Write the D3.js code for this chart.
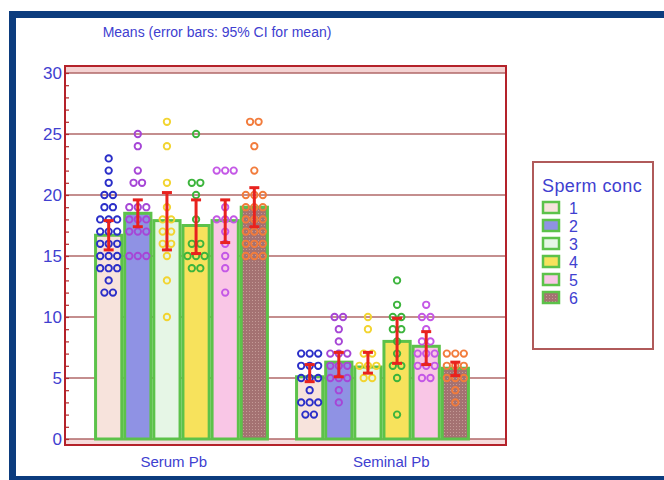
<!DOCTYPE html>
<html>
<head>
<meta charset="utf-8">
<script src="https://cdn.jsdelivr.net/npm/d3@7"></script>
<style>
  body { margin: 0; background: #fff; }
  svg text { font-family: "Liberation Sans", Arial, sans-serif; }
</style>
</head>
<body>
<div id="chart"></div>
<script>
// categories and values
var groups = ["Serum Pb", "Seminal Pb"];
var concLevels = ["1", "2", "3", "4", "5", "6"];
var yTicks = [0, 5, 10, 15, 20, 25, 30];

// means and 95% CI per sperm conc level
var serumMean = [16.7, 18.5, 17.9, 17.5, 17.9, 19.0];
var serumLow  = [15.5, 17.4, 15.5, 15.2, 16.1, 17.4];
var serumHigh = [17.9, 19.6, 20.2, 19.6, 19.6, 20.6];
var seminalMean = [5.1, 6.3, 5.9, 8.0, 7.6, 5.8];
var seminalLow  = [4.7, 5.1, 5.4, 6.2, 6.1, 5.2];
var seminalHigh = [6.1, 7.1, 7.1, 9.9, 8.8, 6.3];

// single observations
var serumPts = [
  [12,12,13,14,14,14,15,15,15,16,16,16,17,17,17,18,18,18,19,19,20,20,21,22,23],
  [15,15,15,17,17,17,18,18,18,19,19,19,21,21,22,24,25],
  [10,13,15,16,16,17,17,18,18,19,21,24,26],
  [14,14,15,15,15,16,16,18,20,21,21,25],
  [12,14,15,16,17,18,18,18,19,22,22,22],
  [15,15,15,16,16,16,17,17,17,18,18,18,19,19,19,20,20,20,22,24,26,26]
];
var seminalPts = [
  [2,2,3,3,3,4,5,5,5,6,6,6,7,7,7],
  [3,4,5,5,5,6,6,6,7,7,7,8,9,10,10],
  [5,5,6,6,6,7,7,9,10],
  [2,5,6,6,7,8,9,9,10,10,11,13],
  [5,5,6,6,6,7,7,7,8,8,9,10,10,11],
  [3,4,5,5,5,6,6,6,7,7,7]
];

var barColors = ["#f7e3dc", "#8f92e4", "#e6f6e6", "#f7e25c", "#f9c6e6", "url(#dots6)"];
var dotColors = ["#2a2ec8", "#a646d6", "#f2d430", "#3cb43c", "#c458e6", "#f27c3c"];

var blue = "#4040d0";
var width = 664, height = 480;

var svg = d3.select("#chart").append("svg")
    .attr("width", width)
    .attr("height", height);

// dotted brown fill of level 6
var pat = svg.append("defs").append("pattern")
    .attr("id", "dots6")
    .attr("width", 3).attr("height", 3)
    .attr("patternUnits", "userSpaceOnUse");
pat.append("rect").attr("width", 3).attr("height", 3).attr("fill", "#a47272");
pat.append("rect").attr("width", 1).attr("height", 1).attr("fill", "#c49a96");

// outer navy frame
svg.append("rect")
    .attr("x", 12.5).attr("y", 14.5)
    .attr("width", 700).attr("height", 465)
    .attr("fill", "none")
    .attr("stroke", "#0c3c7e")
    .attr("stroke-width", 7);

// title
svg.append("text")
    .attr("x", 217).attr("y", 37)
    .attr("text-anchor", "middle")
    .attr("fill", blue)
    .attr("font-size", 14)
    .text("Means  (error bars: 95% CI for mean)");

var plot = {left: 65, right: 506, top: 66, bottom: 445};

var y = d3.scaleLinear().domain([0, 30]).range([439, 73]);

var x0 = d3.scaleBand().domain(groups).range([81, 483]);
var x1 = d3.scaleBand().domain(concLevels)
    .range([0, x0.bandwidth()])
    .paddingInner(0.1)
    .paddingOuter(0.5);
// category labels sit on a slightly wider band
var xLabel = d3.scaleBand().domain(groups).range([65, 500]);

// pink bands at top and bottom of the plot
svg.append("rect")
    .attr("x", plot.left).attr("y", plot.top)
    .attr("width", plot.right - plot.left).attr("height", y(30) - plot.top)
    .attr("fill", "#f4d2d2");
svg.append("rect")
    .attr("x", plot.left).attr("y", y(0))
    .attr("width", plot.right - plot.left).attr("height", plot.bottom - y(0))
    .attr("fill", "#f6dcdc");

// gridlines
svg.append("g").selectAll("line")
    .data(yTicks)
    .enter().append("line")
    .attr("x1", plot.left).attr("x2", plot.right)
    .attr("y1", function(d) { return y(d); })
    .attr("y2", function(d) { return y(d); })
    .attr("stroke", "#b06868")
    .attr("stroke-width", 1.4);

// left axis, minor ticks pointing inwards
var yAxis = d3.axisRight(y)
    .tickValues(d3.range(0, 31))
    .tickSize(4)
    .tickFormat("");
var ax = svg.append("g")
    .attr("transform", "translate(" + plot.left + ",0)")
    .call(yAxis);
ax.select(".domain").remove();
ax.selectAll("line").attr("stroke", "#b02a2a").attr("stroke-width", 1.2);

svg.append("g").selectAll("text")
    .data(yTicks)
    .enter().append("text")
    .attr("x", 62)
    .attr("y", function(d) { return y(d) + 6; })
    .attr("text-anchor", "end")
    .attr("fill", blue)
    .attr("font-size", 17)
    .text(function(d) { return d; });

// build one row per bar
var rows = [];
groups.forEach(function(g, gi) {
  concLevels.forEach(function(c, i) {
    rows.push({
      group: g, conc: c, i: i,
      mean: gi == 0 ? serumMean[i] : seminalMean[i],
      low: gi == 0 ? serumLow[i] : seminalLow[i],
      high: gi == 0 ? serumHigh[i] : seminalHigh[i],
      pts: gi == 0 ? serumPts[i] : seminalPts[i]
    });
  });
});

function cx(d) { return x0(d.group) + x1(d.conc) + x1.bandwidth() / 2; }

// bars
svg.append("g").selectAll("rect")
    .data(rows)
    .enter().append("rect")
    .attr("x", function(d) { return x0(d.group) + x1(d.conc); })
    .attr("width", x1.bandwidth())
    .attr("y", function(d) { return y(d.mean); })
    .attr("height", function(d) { return y(0) - y(d.mean); })
    .attr("fill", function(d) { return barColors[d.i]; })
    .attr("stroke", "#5cc24a")
    .attr("stroke-width", 3);

// dots, same values put side by side
var dots = [];
rows.forEach(function(d) {
  var counts = d3.rollup(d.pts, function(v) { return v.length; }, function(v) { return v; });
  counts.forEach(function(n, val) {
    for (var k = 0; k < n; k++) {
      dots.push({x: cx(d) + (k - (n - 1) / 2) * 8.5, v: val, i: d.i});
    }
  });
});
svg.append("g").selectAll("circle")
    .data(dots)
    .enter().append("circle")
    .attr("cx", function(d) { return d.x; })
    .attr("cy", function(d) { return y(d.v); })
    .attr("r", 3.2)
    .attr("fill", "none")
    .attr("stroke", function(d) { return dotColors[d.i]; })
    .attr("stroke-width", 1.9);

// error bars
var err = svg.append("g").selectAll("g")
    .data(rows)
    .enter().append("g")
    .attr("stroke", "#e8221e")
    .attr("stroke-width", 3);
err.append("line")
    .attr("x1", cx).attr("x2", cx)
    .attr("y1", function(d) { return y(d.low); })
    .attr("y2", function(d) { return y(d.high); });
err.append("line")
    .attr("x1", function(d) { return cx(d) - 5; }).attr("x2", function(d) { return cx(d) + 5; })
    .attr("y1", function(d) { return y(d.low); })
    .attr("y2", function(d) { return y(d.low); });
err.append("line")
    .attr("x1", function(d) { return cx(d) - 5; }).attr("x2", function(d) { return cx(d) + 5; })
    .attr("y1", function(d) { return y(d.high); })
    .attr("y2", function(d) { return y(d.high); });

// plot frame
svg.append("rect")
    .attr("x", plot.left).attr("y", plot.top)
    .attr("width", plot.right - plot.left)
    .attr("height", plot.bottom - plot.top)
    .attr("fill", "none")
    .attr("stroke", "#b4222a")
    .attr("stroke-width", 2);

// group labels
svg.append("g").selectAll("text")
    .data(groups)
    .enter().append("text")
    .attr("x", function(d) { return xLabel(d) + xLabel.bandwidth() / 2; })
    .attr("y", 467)
    .attr("text-anchor", "middle")
    .attr("fill", blue)
    .attr("font-size", 15)
    .text(function(d) { return d; });

// legend
var legend = svg.append("g").attr("transform", "translate(533,162)");
legend.append("rect")
    .attr("width", 120).attr("height", 187)
    .attr("fill", "#fff")
    .attr("stroke", "#b05a5a")
    .attr("stroke-width", 2);
legend.append("text")
    .attr("x", 9).attr("y", 30)
    .attr("fill", blue)
    .attr("font-size", 18)
    .attr("letter-spacing", 0.4)
    .text("Sperm conc");
var item = legend.selectAll(".item")
    .data(concLevels)
    .enter().append("g")
    .attr("class", "item")
    .attr("transform", function(d, i) { return "translate(10," + (40 + i * 18) + ")"; });
item.append("rect")
    .attr("width", 16).attr("height", 11)
    .attr("fill", function(d, i) { return barColors[i]; })
    .attr("stroke", "#5cc24a")
    .attr("stroke-width", 2.5);
item.append("text")
    .attr("x", 26).attr("y", 12)
    .attr("fill", blue)
    .attr("font-size", 16)
    .text(function(d) { return d; });
</script>
</body>
</html>
